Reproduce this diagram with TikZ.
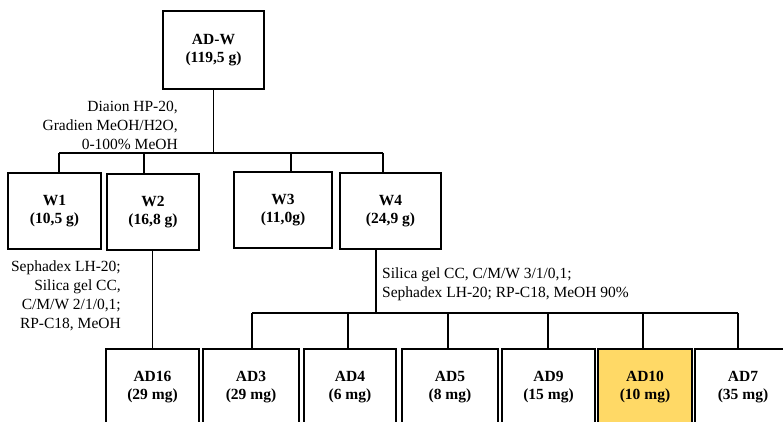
\documentclass[tikz,border=0pt]{standalone}
\usepackage{fontspec}
\setmainfont{Liberation Serif}
\usepackage{tikz}
\usetikzlibrary{positioning,calc}
\definecolor{gold}{RGB}{255,217,102}
\tikzset{
  frc/.style={draw,line width=1.6pt,align=center,font=\fontsize{15.5}{18.5}\selectfont\bfseries,inner sep=0pt,minimum height=76pt},
  pure/.style={frc,fill=gold},
  cond/.style={font=\fontsize{15.5}{19}\selectfont,inner sep=0pt},
  ln/.style={line width=1.1pt},
}

\begin{document}
\begin{tikzpicture}[x=1pt,y=-1pt]
  \useasboundingbox (0,0) rectangle (783,422);
  \clip (0,0) rectangle (783,422);
  % crude extract
  \node[frc,minimum width=101pt,minimum height=78pt] (adw) at (213.5,50) {AD-W\\(119,5 g)};
  % first fractionation (Diaion)
  \node[frc,minimum width=93pt] (w1) at (54.5,211) {W1\\(10,5 g)};
  \node[frc,minimum width=92pt] (w2) at (153,212) {W2\\(16,8 g)};
  \node[frc,minimum width=98pt] (w3) at (283,210) {W3\\(11,0g)};
  \node[frc,minimum width=101pt] (w4) at (390.5,211) {W4\\(24,9 g)};
  \node[cond,anchor=east,align=right] (c1) at (178,125) {Diaion HP-20,\\Gradien MeOH/H2O,\\0-100\% MeOH};
  % pure compounds
  \node[frc,minimum width=93pt] (ad16) at (152.5,387) {AD16\\(29 mg)};
  \node[frc,minimum width=96pt] (ad3) at (251,387) {AD3\\(29 mg)};
  \node[frc,minimum width=92pt] (ad4) at (350,387) {AD4\\(6 mg)};
  \node[frc,minimum width=96pt] (ad5) at (450,387) {AD5\\(8 mg)};
  \node[frc,minimum width=93pt] (ad9) at (548.5,387) {AD9\\(15 mg)};
  \node[pure,minimum width=94pt] (ad10) at (645,387) {AD10\\(10 mg)};
  \node[frc,minimum width=96pt] (ad7) at (743,387) {AD7\\(35 mg)};
  \node[cond,anchor=east,align=right] (c2) at (121,296) {Sephadex LH-20;\\Silica gel CC,\\C/M/W 2/1/0,1;\\RP-C18, MeOH};
  \node[cond,anchor=west,align=left] (c3) at (382,284) {Silica gel CC, C/M/W 3/1/0,1;\\Sephadex LH-20; RP-C18, MeOH 90\%};
  % upper tree
  \coordinate (t1) at (59,153);
  \coordinate (t2) at (144,153);
  \coordinate (t3) at (291,153);
  \coordinate (t4) at (383,153);
  \draw[ln] (adw.south) -- (adw.south |- t1);
  \draw[ln] (t1) -- (t4);
  \draw[ln] (t1) -- (t1 |- w1.north);
  \draw[ln] (t2) -- (t2 |- w2.north);
  \draw[ln] (t3) -- (t3 |- w3.north);
  \draw[ln] (t4) -- (t4 |- w4.north);
  % W2 branch
  \draw[ln] (w2.south -| ad16.north) -- (ad16.north);
  % W4 branch
  \coordinate (s4) at (376,313);
  \coordinate (u3) at (252,313);
  \coordinate (u4) at (348,313);
  \coordinate (u5) at (448,313);
  \coordinate (u9) at (548,313);
  \coordinate (u10) at (643,313);
  \coordinate (u7) at (738,313);
  \draw[ln] (w4.south -| s4) -- (s4);
  \draw[ln] (u3) -- (u7);
  \draw[ln] (u3) -- (u3 |- ad3.north);
  \draw[ln] (u4) -- (u4 |- ad4.north);
  \draw[ln] (u5) -- (u5 |- ad5.north);
  \draw[ln] (u9) -- (u9 |- ad9.north);
  \draw[ln] (u10) -- (u10 |- ad10.north);
  \draw[ln] (u7) -- (u7 |- ad7.north);
\end{tikzpicture}
\end{document}
